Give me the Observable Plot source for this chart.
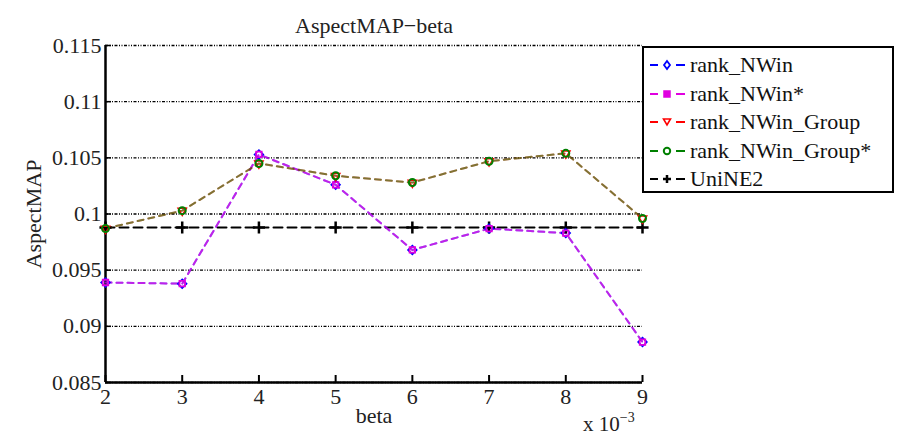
<!DOCTYPE html>
<html>
<head>
<meta charset="utf-8">
<script src="https://cdn.jsdelivr.net/npm/d3@7"></script>
<script src="https://cdn.jsdelivr.net/npm/@observablehq/plot@0.6"></script>
<style>
  body { margin: 0; background: #fff; }
  #wrap { position: relative; width: 899px; height: 438px; font-family: "Liberation Serif", "DejaVu Serif", "Times New Roman", serif; }
  #legend { position: absolute; left: 642px; top: 46px; width: 248px; height: 143px; border: 2px solid #000; background: #fff; }
  .row { position: absolute; left: 0; height: 28px; display: flex; align-items: center; font-size: 22px; color: #111; }
  .row svg { width: 46px; height: 28px; }
  #mult { position: absolute; left: 583px; top: 410px; font-size: 21px; color: #222; }
  #mult sup { font-size: 14px; vertical-align: 9px; }
</style>
</head>
<body>
<div id="wrap">
  <div id="chart"></div>
  <div id="legend"></div>
  <div id="mult">x 10<sup>−3</sup></div>
</div>
<script>
const betas = [2, 3, 4, 5, 6, 7, 8, 9];
const rankNWin          = [0.0939, 0.0938, 0.1053, 0.1026, 0.0968, 0.0987, 0.0983, 0.0886];
const rankNWinStar      = [0.0939, 0.0938, 0.1053, 0.1026, 0.0968, 0.0987, 0.0983, 0.0886];
const rankNWinGroup     = [0.0987, 0.1003, 0.1045, 0.1034, 0.1028, 0.1047, 0.1054, 0.0996];
const rankNWinGroupStar = [0.0987, 0.1003, 0.1045, 0.1034, 0.1028, 0.1047, 0.1054, 0.0996];
const uniNE2            = [0.0988, 0.0988, 0.0988, 0.0988, 0.0988, 0.0988, 0.0988, 0.0988];
const yTicks = [0.085, 0.09, 0.095, 0.1, 0.105, 0.11, 0.115];
const seriesNames = ["rank_NWin", "rank_NWin*", "rank_NWin_Group", "rank_NWin_Group*", "UniNE2"];
const seriesColors = ["#0000ff", "#e000e0", "#ff0000", "#008000", "#000000"];
const seriesSymbols = ["diamond2", "square2", "triangle2", "circle", "plus"];
const titleText = "AspectMAP−beta";

const FONT = "'Liberation Serif', 'DejaVu Serif', 'Times New Roman', serif";
const toRows = (vals) => betas.map((b, i) => ({beta: b, v: vals[i]}));
const sets = [rankNWin, rankNWinStar, rankNWinGroup, rankNWinGroupStar, uniNE2].map(toRows);

const lineOpts = (i, extra = {}) => ({x: "beta", y: "v", stroke: seriesColors[i], strokeWidth: 2, ...extra});

const chart = Plot.plot({
  width: 899,
  height: 438,
  marginLeft: 105,
  marginRight: 257,
  marginTop: 45,
  marginBottom: 56,
  style: {fontFamily: FONT, fontSize: "22px", color: "#222", background: "#fff"},
  x: {domain: [2, 9]},
  y: {domain: [0.085, 0.115]},
  marks: [
    Plot.ruleY(yTicks, {stroke: "#000", strokeWidth: 1.3, strokeDasharray: "3,1.5,1,1.5,1,1.5"}),
    Plot.axisY({ticks: yTicks, tickFormat: d => String(+d.toFixed(3)), tickSize: 0, tickPadding: 4,
      label: "AspectMAP", labelAnchor: "center", labelArrow: "none", labelOffset: 80}),
    Plot.axisX({ticks: betas, tickFormat: d => String(d), tickSize: 0, tickPadding: 6,
      label: "beta", labelAnchor: "center", labelArrow: "none", labelOffset: 40}),
    Plot.tickX(betas, {x: d => d, stroke: "#000", strokeWidth: 2, insetTop: 330}),
    Plot.tickY(yTicks, {y: d => d, stroke: "#000", strokeWidth: 1.5, insetRight: 531}),
    Plot.ruleX([2], {stroke: "#000", strokeWidth: 2.5}),
    Plot.ruleY([0.085], {stroke: "#000", strokeWidth: 2.5}),
    // UniNE2
    Plot.line(sets[4], lineOpts(4, {strokeDasharray: "9,5"})),
    // rank_NWin (blue) and rank_NWin* (magenta)
    Plot.line(sets[0], lineOpts(0, {strokeDasharray: "6,5", strokeOpacity: 0.55})),
    Plot.line(sets[1], lineOpts(1, {strokeDasharray: "6,5", strokeOpacity: 0.7})),
    // Group lines
    Plot.line(sets[2], lineOpts(2, {strokeDasharray: "6,5", strokeOpacity: 0.6})),
    Plot.line(sets[3], lineOpts(3, {strokeDasharray: "6,5", strokeOpacity: 0.5})),
    Plot.dot(sets[4], {x: "beta", y: "v", symbol: "plus", stroke: "#000", strokeWidth: 2.5, r: 4}),
    Plot.dot(sets[0], {x: "beta", y: "v", symbol: "diamond2", stroke: seriesColors[0], strokeWidth: 1.5, r: 4}),
    Plot.dot(sets[1], {x: "beta", y: "v", symbol: "square2", stroke: seriesColors[1], strokeWidth: 1.8, r: 3.5}),
    Plot.dot(sets[2], {x: "beta", y: "v", symbol: "triangle2", rotate: 180, stroke: seriesColors[2], strokeWidth: 1.5, r: 4}),
    Plot.dot(sets[3], {x: "beta", y: "v", symbol: "circle", stroke: seriesColors[3], strokeWidth: 2, r: 3.5}),
    Plot.text([titleText], {frameAnchor: "top", dy: -28, fontSize: 22, fill: "#222"})
  ]
});
document.getElementById("chart").appendChild(chart);

// legend
const legend = document.getElementById("legend");
const symbolPaths = {
  diamond2: '<path d="M23,10 L26,14 L23,18 L20,14 Z" fill="none" stroke-width="1.8"/>',
  square2: '<rect x="20" y="11" width="6" height="6" stroke-width="1.5"/>',
  triangle2: '<path d="M19.5,11 L26.5,11 L23,17 Z" fill="none" stroke-width="1.6"/>',
  circle: '<circle cx="23" cy="14" r="3.2" fill="none" stroke-width="2"/>',
  plus: '<path d="M19,14 L27,14 M23,10 L23,18" stroke-width="2.5"/>'
};
seriesNames.forEach((name, i) => {
  const row = document.createElement("div");
  row.className = "row";
  row.style.top = (3 + i * 28.5) + "px";
  const c = seriesColors[i];
  const fill = symbolPaths[seriesSymbols[i]].includes("rect") ? c : "none";
  row.innerHTML = `<svg viewBox="0 0 46 28"><g stroke="${c}" fill="${fill}">` +
    `<line x1="6" y1="14" x2="14" y2="14" stroke-width="2"/>` +
    `<line x1="32" y1="14" x2="41" y2="14" stroke-width="2"/>` +
    symbolPaths[seriesSymbols[i]] + `</g></svg><span>${name}</span>`;
  legend.appendChild(row);
});
</script>
</body>
</html>
